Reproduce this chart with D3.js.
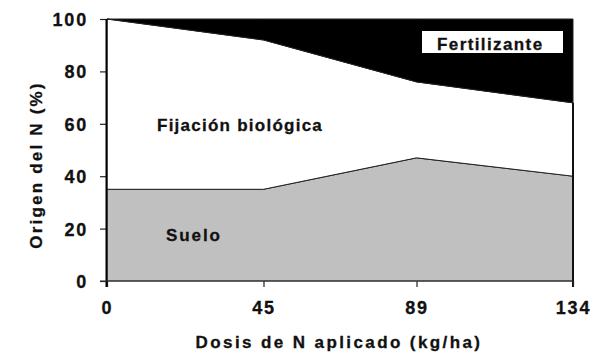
<html>
    <head>
        <meta charset="utf8">
        <style>
            body { margin: 0; background: #fff; }
            text { font-family: "Liberation Sans", Arial, sans-serif; font-weight: bold; fill: #111; stroke: #111; stroke-width: 0.3px; }
        </style>
    </head>
    <body>
        <svg width="600" height="360"></svg>
        <script src="https://d3js.org/d3.v7.min.js"></script>
        <script>
            // values (% of N in the plant)
            var dosis = [0, 45, 89, 134];
            var suelo = [35, 35, 47, 40];
            var fijacion = [65, 57, 29, 28];
            var fertilizante = [0, 8, 24, 32];
            var yTicks = [0, 20, 40, 60, 80, 100];

            var svg = d3.select("svg");

            var x = d3.scaleLinear().domain([0, 134]).range([107, 573]);
            var y = d3.scaleLinear().domain([0, 100]).range([281, 19]);

            var rows = dosis.map(function(d, i) {
                return { dosis: d, suelo: suelo[i], fijacion: fijacion[i], fertilizante: fertilizante[i] };
            });
            var stack = d3.stack().keys(["suelo", "fijacion", "fertilizante"]);
            var series = stack(rows);
            var fills = { suelo: "#c0c0c0", fijacion: "#ffffff", fertilizante: "#000000" };

            var area = d3.area()
                .x(function(d) { return x(d.data.dosis); })
                .y0(function(d) { return y(d[0]); })
                .y1(function(d) { return y(d[1]); });

            svg.append("g")
                .selectAll("path")
                .data(series)
                .enter().append("path")
                .attr("d", area)
                .attr("fill", function(d) { return fills[d.key]; })
                .attr("stroke", "#222")
                .attr("stroke-width", 1);

            // right edge line
            svg.append("line")
                .attr("x1", x(134)).attr("x2", x(134))
                .attr("y1", y(100 - fertilizante[3])).attr("y2", 287)
                .attr("stroke", "#111").attr("stroke-width", 2);

            // axes
            var yAxis = svg.append("g")
                .attr("transform", "translate(" + 107 + ",0)")
                .call(d3.axisLeft(y).tickValues(yTicks).tickSize(7).tickPadding(12));
            var xAxis = svg.append("g")
                .attr("transform", "translate(0," + 281 + ")")
                .call(d3.axisBottom(x).tickValues(dosis).tickSize(6).tickPadding(14));

            [yAxis, xAxis].forEach(function(g) {
                g.select(".domain").remove();
                g.selectAll("line").attr("stroke", "#222").attr("stroke-width", 1.2);
                g.selectAll("text")
                    .style("font-family", "'Liberation Sans', Arial, sans-serif")
                    .style("font-weight", "bold")
                    .style("font-size", "18px")
                    .style("letter-spacing", "1.8px")
                    .attr("fill", "#111");
            });
            yAxis.selectAll("text").attr("dy", "0.36em");
            xAxis.selectAll("text").attr("dy", "0.71em");

            svg.append("line")
                .attr("x1", 106.5).attr("x2", 106.5).attr("y1", 19).attr("y2", 287)
                .attr("stroke", "#000").attr("stroke-width", 2);
            svg.append("line")
                .attr("x1", 100).attr("x2", 573).attr("y1", 281).attr("y2", 281)
                .attr("stroke", "#333").attr("stroke-width", 1.2);

            // axis titles
            svg.append("text")
                .attr("x", 339).attr("y", 348)
                .attr("text-anchor", "middle")
                .style("font-size", "17px")
                .style("letter-spacing", "2.4px")
                .text("Dosis de N aplicado (kg/ha)");
            svg.append("text")
                .attr("transform", "translate(42,165) rotate(-90)")
                .attr("text-anchor", "middle")
                .style("font-size", "17px")
                .style("letter-spacing", "2.2px")
                .text("Origen del N (%)");

            // series labels
            svg.append("rect")
                .attr("x", 422).attr("y", 31).attr("width", 141).attr("height", 22)
                .attr("fill", "#fff");
            svg.append("text")
                .attr("x", 437).attr("y", 50)
                .style("font-size", "17px")
                .style("letter-spacing", "1.4px")
                .text("Fertilizante");
            svg.append("text")
                .attr("x", 157).attr("y", 131)
                .style("font-size", "17px")
                .style("letter-spacing", "1.25px")
                .text("Fijación biológica");
            svg.append("text")
                .attr("x", 166).attr("y", 241)
                .style("font-size", "17px")
                .style("letter-spacing", "1.9px")
                .text("Suelo");
        </script>
    </body>
</html>
